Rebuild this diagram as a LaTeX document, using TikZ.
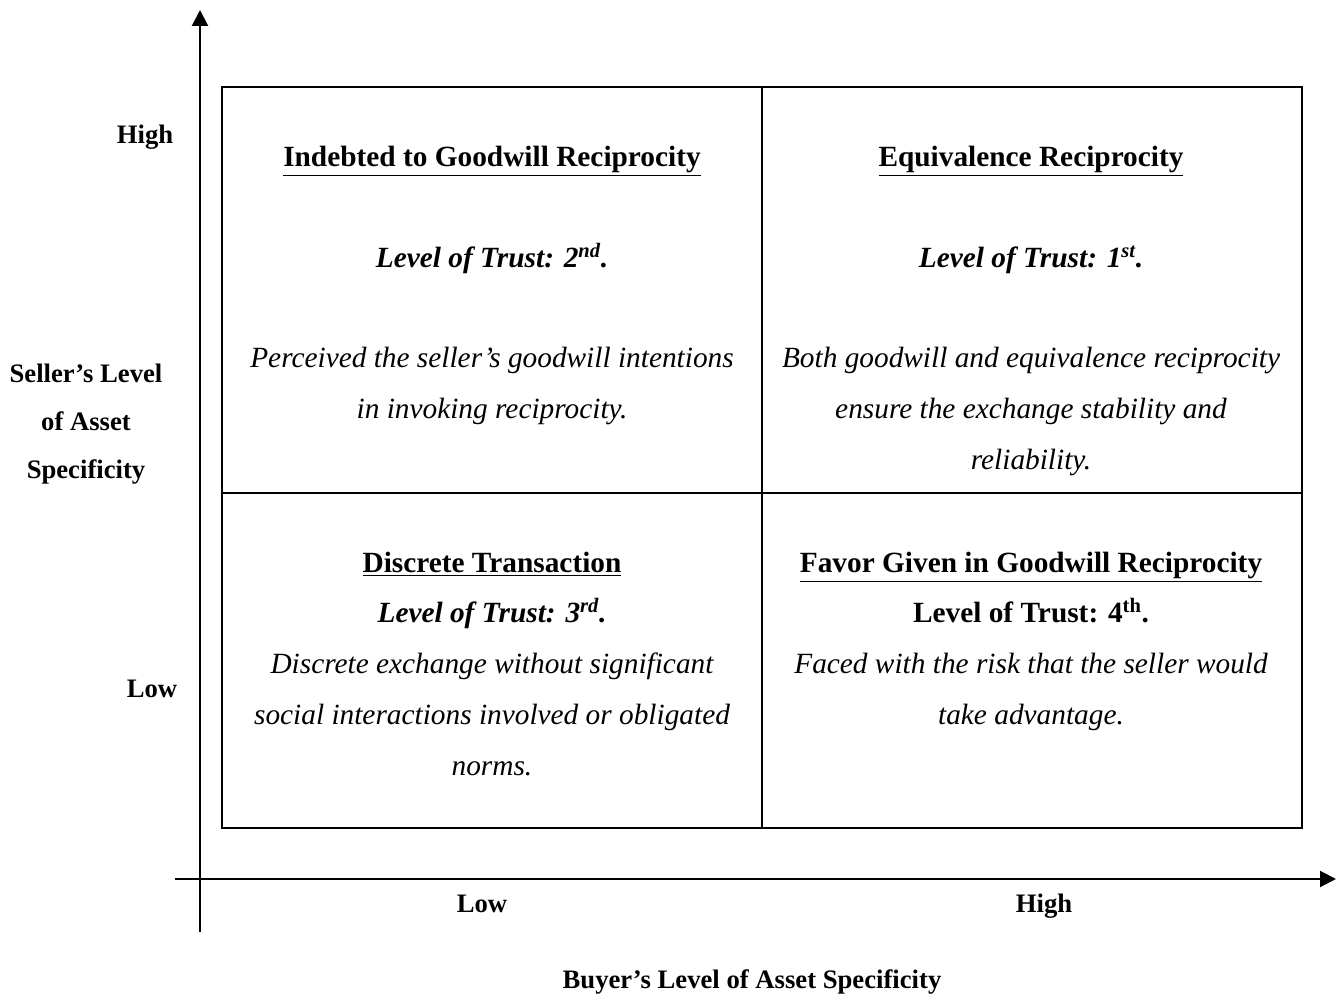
\documentclass[tikz,border=0pt]{standalone}
\usepackage{fontspec}
\setmainfont{Liberation Serif}
\usetikzlibrary{arrows.meta}

\begin{document}
\begin{tikzpicture}[x=0.75pt,y=-0.75pt,
  axislabel/.style={font=\fontsize{20}{36}\selectfont\bfseries, anchor=base, align=center},
  quadtitle/.style={font=\fontsize{22}{38}\selectfont\bfseries, anchor=base},
  trustline/.style={font=\fontsize{22}{38}\selectfont\bfseries\itshape, anchor=base},
  bodytext/.style={font=\fontsize{22}{38.25}\selectfont\itshape, anchor=base, align=center},
  axis/.style={line width=1.5pt, -{Triangle[length=12pt,width=12pt]}}]
\useasboundingbox (0,0) rectangle (1339,994);

% axes
\coordinate (yfrom) at (200,932);
\coordinate (yto) at (200,10);
\coordinate (xfrom) at (175,879);
\coordinate (xto) at (1336,879);
\draw [axis] (yfrom) -- (yto);
\draw [axis] (xfrom) -- (xto);

% the four cells
\draw [line width=1.6pt] (222,87) rectangle (1302,828);
\draw [line width=1.6pt] (762,87) -- (762,828);
\draw [line width=1.6pt] (222,493) -- (1302,493);

% axis labels (base = last line)
\node (yhigh) at (145,144) [axislabel] {High};
\node (ylow) at (152,697) [axislabel] {Low};
\node (yname) at (86,479) [axislabel] {Seller’s Level\\of Asset\\Specificity};
\node (xlow) at (482,912) [axislabel] {Low};
\node (xhigh) at (1044,912) [axislabel] {High};
\node (xname) at (752,988) [axislabel] {Buyer’s Level of Asset Specificity};

% top left
\node (tltitle) at (492,167) [quadtitle] {\underline{Indebted to Goodwill Reciprocity}};
\node (tltrust) at (492,268) [trustline] {Level of Trust: 2\textsuperscript{nd}.};
\node (tlbody) at (492,419) [bodytext] {Perceived the seller’s goodwill intentions\\in invoking reciprocity.};

% top right
\node (trtitle) at (1031,167) [quadtitle] {\underline{Equivalence Reciprocity}};
\node (trtrust) at (1031,268) [trustline] {Level of Trust: 1\textsuperscript{st}.};
\node (trbody) at (1031,470) [bodytext] {Both goodwill and equivalence reciprocity\\ensure the exchange stability and\\reliability.};

% bottom left
\node (bltitle) at (492,573) [quadtitle] {\underline{Discrete Transaction}};
\node (bltrust) at (492,623) [trustline] {Level of Trust: 3\textsuperscript{rd}.};
\node (blbody) at (492,775) [bodytext] {Discrete exchange without significant\\social interactions involved or obligated\\norms.};

% bottom right
\node (brtitle) at (1031,573) [quadtitle] {\underline{Favor Given in Goodwill Reciprocity}};
\node (brtrust) at (1031,623) [quadtitle] {Level of Trust: 4\textsuperscript{th}.};
\node (brbody) at (1031,724) [bodytext] {Faced with the risk that the seller would\\take advantage.};
\end{tikzpicture}
\end{document}
